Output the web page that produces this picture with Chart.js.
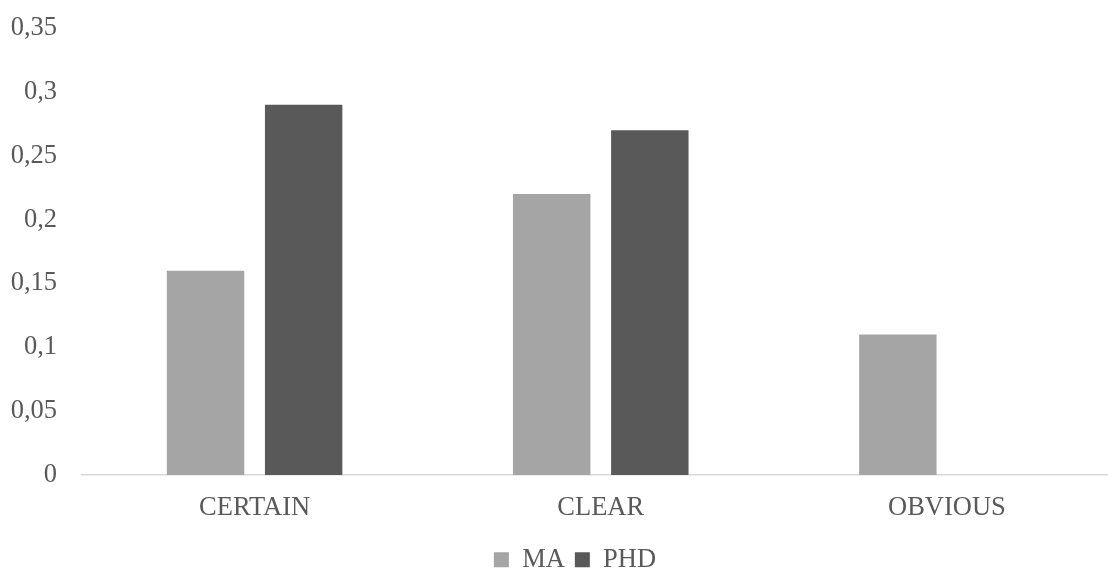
<!DOCTYPE html>
<html>
<head>
<meta charset="utf-8">
<script src="https://cdn.jsdelivr.net/npm/chart.js@4/dist/chart.umd.min.js"></script>
<style>
  html, body { margin: 0; padding: 0; background: #fff; overflow: hidden; }
  #wrap { width: 1120px; height: 570px; }
</style>
</head>
<body>
<div id="wrap"><canvas id="myChart"></canvas></div>
<script>
var categories = ["CERTAIN", "CLEAR", "OBVIOUS"];
var maValues = [0.16, 0.22, 0.11];
var phdValues = [0.29, 0.27, 0];
var yTicks = [0, 0.05, 0.1, 0.15, 0.2, 0.25, 0.3, 0.35];

var font = { family: "'Liberation Serif', 'Times New Roman', serif", size: 26.5 };

// nudge the legend a bit to the right, like the original
var legendShift = {
  id: 'legendShift',
  afterLayout: function(chart) {
    chart.legend.left += 15;
    chart.legend.right += 15;
  }
};

var ctx = document.getElementById('myChart').getContext('2d');
var myChart = new Chart(ctx, {
  type: 'bar',
  data: {
    labels: categories,
    datasets: [{
      label: "MA",
      backgroundColor: '#a5a5a5',
      data: maValues
    }, {
      label: "PHD",
      backgroundColor: '#595959',
      data: phdValues
    }]
  },
  plugins: [legendShift],
  options: {
    responsive: true,
    maintainAspectRatio: false,
    animation: false,
    datasets: { bar: { categoryPercentage: 0.567, barPercentage: 0.789 } },
    layout: { padding: { top: 28, left: 0, right: 0, bottom: -13 } },
    plugins: {
      tooltip: { enabled: false },
      legend: {
        position: 'bottom',
        labels: { font: font, color: '#595959', boxWidth: 15, boxHeight: 15, padding: 10 }
      }
    },
    scales: {
      x: {
        grid: { display: false, drawTicks: false },
        border: { display: true, color: '#d9d9d9', width: 1.5 },
        ticks: { font: font, color: '#595959', padding: 17 },
        afterFit: function(axis) { axis.height = 61.5; }
      },
      y: {
        min: 0,
        max: 0.35,
        afterBuildTicks: function(axis) {
          axis.ticks = yTicks.map(function(v) { return { value: v }; });
        },
        afterFit: function(axis) {
          axis.width = 81.5;
          axis.paddingTop = 0;
          axis.paddingBottom = 0;
        },
        grid: { display: false, drawTicks: false },
        border: { display: false },
        ticks: {
          font: font,
          color: '#595959',
          padding: 24.5,
          callback: function(v) { return String(Number(v.toFixed(2))).replace('.', ','); }
        }
      }
    }
  }
});
</script>
</body>
</html>
